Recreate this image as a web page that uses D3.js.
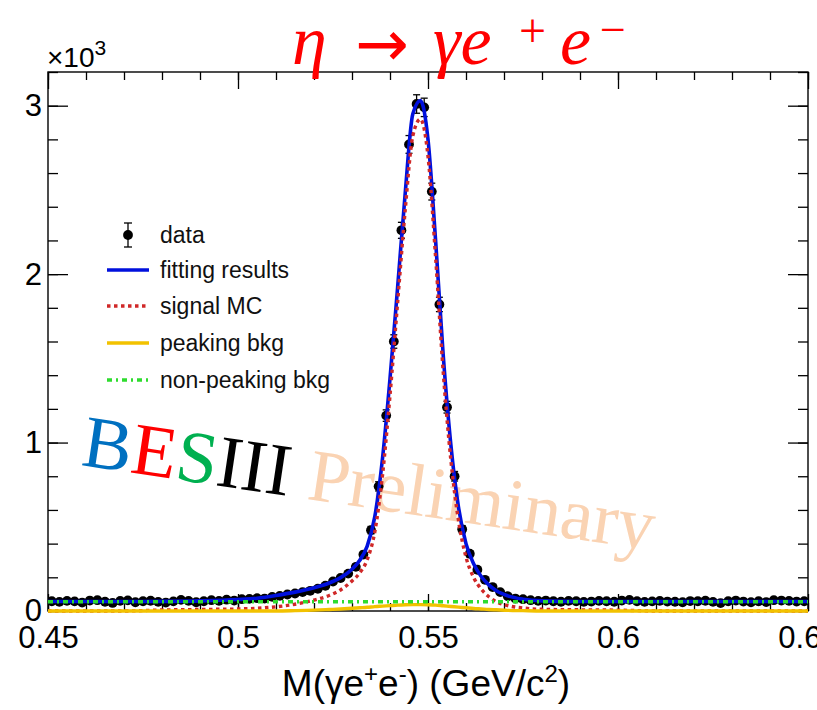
<!DOCTYPE html>
<html>
<head>
<meta charset="utf-8">
<script src="https://cdn.jsdelivr.net/npm/d3@7/dist/d3.min.js"></script>
<style>
  html, body { margin: 0; padding: 0; background: #fff; }
  svg { display: block; }
  .axis text { font-family: "Liberation Sans", Arial, Helvetica, sans-serif; fill: #000; }
  .axis path { display: none; }
  .axis line { stroke: #000; stroke-width: 1.3; }
</style>
</head>
<body>
<svg id="chart" width="817" height="710"></svg>
<script>
// ---- histogram: eta -> gamma e+ e- candidates, 2 MeV bins from 0.45 to 0.65 GeV/c^2
const binLow = 0.45;
const binWidth = 0.002;
const dataCounts = [
  58, 54, 60, 57, 50, 62, 64, 55, 48, 60,
  63, 52, 58, 61, 54, 50, 57, 66, 60, 52,
  58, 64, 60, 67, 62, 70, 72, 76, 74, 84,
  90, 98, 104, 112, 120, 132, 150, 175, 196, 222,
  262, 335, 480, 740, 1160, 1600, 2260, 2770, 3010, 2990,
  2490, 1820, 1210, 800, 485, 340, 245, 185, 142, 112,
  88, 74, 70, 64, 60, 62, 58, 55, 60, 58,
  54, 56, 60, 58, 55, 62, 66, 58, 54, 57,
  60, 56, 55, 52, 59, 58, 61, 54, 47, 58,
  62, 56, 52, 58, 53, 64, 62, 60, 56, 58
];

// ---- fit components, sampled on a common mass grid (GeV/c^2)
const curveMass = [
  0.450, 0.460, 0.470, 0.480, 0.490, 0.500, 0.505, 0.510, 0.515, 0.520,
  0.524, 0.527, 0.530, 0.532, 0.534, 0.536, 0.538, 0.540, 0.542, 0.544,
  0.546, 0.548, 0.550, 0.552, 0.554, 0.556, 0.558, 0.560, 0.562, 0.564,
  0.566, 0.568, 0.571, 0.575, 0.580, 0.590, 0.600, 0.610, 0.620, 0.630,
  0.640, 0.650
];
const fitValues = [
  56, 56, 56, 57, 60, 68, 76, 92, 112, 138,
  166, 198, 248, 300, 385, 560, 900, 1380, 1920, 2480,
  2950, 3030, 2800, 2200, 1520, 990, 620, 400, 280, 205,
  155, 120, 90, 70, 60, 56, 56, 56, 56, 56,
  56, 56
];
const signalValues = [
  0, 0, 0, 6, 9, 12, 16, 25, 40, 65,
  92, 125, 178, 225, 305, 470, 800, 1280, 1830, 2380,
  2820, 2920, 2700, 2100, 1420, 900, 540, 320, 200, 130,
  85, 55, 32, 18, 10, 7, 5, 0, 0, 0,
  0, 0
];
const peakingValues = [
  0, 0, 0, 0, 0, 0, 0, 0, 2, 5,
  9, 12, 16, 19, 22, 26, 29, 32, 35, 37,
  38, 38, 37, 35, 31, 27, 23, 19, 15, 12,
  9, 7, 4, 2, 0, 0, 0, 0, 0, 0,
  0, 0
];
const nonPeakingValues = [
  55, 55, 55, 55, 55, 55, 55, 55, 55, 55,
  55, 55, 55, 55, 55, 55, 55, 55, 55, 55,
  55, 55, 55, 55, 55, 55, 55, 55, 55, 55,
  55, 55, 55, 55, 55, 55, 55, 55, 55, 55,
  55, 55
];

// ---- axis ticks
const xMajorTicks = [0.45, 0.5, 0.55, 0.6, 0.65];
const xTickLabels = ["0.45", "0.5", "0.55", "0.6", "0.65"];
const yMajorTicks = [0, 1000, 2000, 3000];
const yTickLabels = ["0", "1", "2", "3"];

const legendItems = ["data", "fitting results", "signal MC", "peaking bkg", "non-peaking bkg"];

// ---- layout
const svg = d3.select("#chart");
const frame = { left: 48, right: 808, top: 72, bottom: 611 };
const x = d3.scaleLinear().domain([0.45, 0.65]).range([frame.left, frame.right]);
const y = d3.scaleLinear().domain([0, 3200]).range([frame.bottom, frame.top]);
const sans = '"Liberation Sans", Arial, Helvetica, sans-serif';
const serif = '"Liberation Serif", "Times New Roman", serif';

const colors = {
  fit: "#0010DD",
  signal: "#D02828",
  peaking: "#F2C200",
  nonPeaking: "#2EDC2E"
};

svg.append("defs").append("clipPath").attr("id", "plotClip")
  .append("rect")
  .attr("x", frame.left).attr("y", frame.top)
  .attr("width", frame.right - frame.left).attr("height", frame.bottom - frame.top + 3);

// ---- axes: major/minor ticks drawn inward on all four sides
const xMinor = d3.range(0.45, 0.6501, 0.01).map(v => +v.toFixed(3));
const yMinor = d3.range(0, 3201, 200);

function addAxis(axisFn, scale, values, size, transform, labels, fontSize, padding) {
  const ax = axisFn(scale).tickValues(values).tickSizeInner(-size).tickSizeOuter(0)
    .tickPadding(padding || 0)
    .tickFormat(labels ? (d, i) => labels[i] : () => "");
  const g = svg.append("g").attr("class", "axis").attr("transform", transform).call(ax);
  if (labels) g.selectAll("text").style("font-size", fontSize + "px");
  return g;
}
// bottom
addAxis(d3.axisBottom, x, xMinor, 8, `translate(0,${frame.bottom})`);
addAxis(d3.axisBottom, x, xMajorTicks, 17, `translate(0,${frame.bottom})`, xTickLabels, 31, 15);
// top
addAxis(d3.axisTop, x, xMinor, 8, `translate(0,${frame.top})`);
addAxis(d3.axisTop, x, xMajorTicks, 17, `translate(0,${frame.top})`);
// left
addAxis(d3.axisLeft, y, yMinor, 10, `translate(${frame.left},0)`);
addAxis(d3.axisLeft, y, yMajorTicks, 20, `translate(${frame.left},0)`, yTickLabels, 31, 6);
// right
addAxis(d3.axisRight, y, yMinor, 10, `translate(${frame.right},0)`);
addAxis(d3.axisRight, y, yMajorTicks, 20, `translate(${frame.right},0)`);

// frame
svg.append("rect")
  .attr("x", frame.left).attr("y", frame.top)
  .attr("width", frame.right - frame.left).attr("height", frame.bottom - frame.top)
  .attr("fill", "none").attr("stroke", "#000").attr("stroke-width", 1.4);

// ---- watermark
const mark = svg.append("text")
  .attr("transform", "translate(80,465) rotate(8.5)")
  .style("font-family", serif).style("font-size", "74px");
mark.append("tspan").attr("fill", "#0070C0").text("B");
mark.append("tspan").attr("fill", "#FF0000").text("E");
mark.append("tspan").attr("fill", "#00B050").text("S");
mark.append("tspan").attr("fill", "#000000").text("III");
mark.append("tspan").attr("fill", "#FAD3B3").text(" Preliminary");

// ---- data points with error bars
const bins = dataCounts.map((c, i) => ({ m: binLow + binWidth * (i + 0.5), c: c, e: Math.sqrt(c) }));
const plot = svg.append("g").attr("clip-path", "url(#plotClip)");
const pts = plot.append("g");
pts.selectAll("line.err").data(bins).join("line")
  .attr("x1", d => x(d.m)).attr("x2", d => x(d.m))
  .attr("y1", d => y(d.c - d.e)).attr("y2", d => y(d.c + d.e))
  .attr("stroke", "#000").attr("stroke-width", 1.3);
pts.selectAll("line.capT").data(bins).join("line")
  .attr("x1", d => x(d.m) - 3.5).attr("x2", d => x(d.m) + 3.5)
  .attr("y1", d => y(d.c + d.e)).attr("y2", d => y(d.c + d.e))
  .attr("stroke", "#000").attr("stroke-width", 1.3);
pts.selectAll("line.capB").data(bins).join("line")
  .attr("x1", d => x(d.m) - 3.5).attr("x2", d => x(d.m) + 3.5)
  .attr("y1", d => y(d.c - d.e)).attr("y2", d => y(d.c - d.e))
  .attr("stroke", "#000").attr("stroke-width", 1.3);
pts.selectAll("circle").data(bins).join("circle")
  .attr("cx", d => x(d.m)).attr("cy", d => y(d.c)).attr("r", 4.9)
  .attr("fill", "#000");

// ---- fit curves
function drawCurve(values, color, width, dash) {
  const line = d3.line().x((d, i) => x(curveMass[i])).y(d => y(d)).curve(d3.curveMonotoneX);
  plot.append("path").datum(values)
    .attr("d", line)
    .attr("fill", "none").attr("stroke", color).attr("stroke-width", width)
    .attr("stroke-dasharray", dash || null);
}
drawCurve(fitValues, colors.fit, 3.6);
drawCurve(signalValues, colors.signal, 3.4, "3.5,3.5");
drawCurve(peakingValues, colors.peaking, 3.4);
drawCurve(nonPeakingValues, colors.nonPeaking, 3.4, "5,4,2,4");

// ---- legend
const legend = svg.append("g");
const rowY = [235, 270, 306, 343, 380];
legendItems.forEach((label, i) => {
  const yy = rowY[i];
  if (i === 0) {
    legend.append("line").attr("x1", 128).attr("x2", 128).attr("y1", yy - 12).attr("y2", yy + 12)
      .attr("stroke", "#000").attr("stroke-width", 1.3);
    legend.append("line").attr("x1", 124).attr("x2", 132).attr("y1", yy - 12).attr("y2", yy - 12)
      .attr("stroke", "#000").attr("stroke-width", 1.3);
    legend.append("line").attr("x1", 124).attr("x2", 132).attr("y1", yy + 12).attr("y2", yy + 12)
      .attr("stroke", "#000").attr("stroke-width", 1.3);
    legend.append("circle").attr("cx", 128).attr("cy", yy).attr("r", 4.9).attr("fill", "#000");
  } else {
    const styles = [null,
      [colors.fit, 3.6, null],
      [colors.signal, 3.4, "3.5,3.5"],
      [colors.peaking, 3.4, null],
      [colors.nonPeaking, 3.4, "5,4,2,4"]][i];
    legend.append("line").attr("x1", 107).attr("x2", 149).attr("y1", yy).attr("y2", yy)
      .attr("stroke", styles[0]).attr("stroke-width", styles[1])
      .attr("stroke-dasharray", styles[2]);
  }
  legend.append("text").attr("x", 160).attr("y", yy).attr("dy", "0.35em")
    .style("font-family", sans).style("font-size", "23px").attr("fill", "#111")
    .text(label);
});

// ---- axis multiplier
const mult = svg.append("text").attr("x", 47).attr("y", 67)
  .style("font-family", sans).style("font-size", "28px").attr("fill", "#000");
mult.append("tspan").text("\u00D710");
mult.append("tspan").attr("dy", -12).style("font-size", "21px").text("3");

// ---- x-axis title
const xt = svg.append("text").attr("x", 426).attr("y", 696).attr("text-anchor", "middle")
  .style("font-family", sans).style("font-size", "37px").attr("fill", "#000");
xt.append("tspan").text("M(\u03B3e");
xt.append("tspan").attr("dy", -14).style("font-size", "24px").text("+");
xt.append("tspan").attr("dy", 14).text("e");
xt.append("tspan").attr("dy", -14).style("font-size", "24px").text("-");
xt.append("tspan").attr("dy", 14).text(") (GeV/c");
xt.append("tspan").attr("dy", -14).style("font-size", "24px").text("2");
xt.append("tspan").attr("dy", 14).text(")");

// ---- title
const title = svg.append("g").style("font-family", serif).attr("fill", "#FF0000");
title.append("text").attr("x", 292).attr("y", 64).style("font-size", "70px").style("font-style", "italic").text("\u03B7");
title.append("text").attr("x", 355).attr("y", 66).style("font-size", "64px")
  .style("font-family", '"DejaVu Sans", sans-serif').text("\u2192");
title.append("text").attr("x", 433).attr("y", 64).style("font-size", "70px").style("font-style", "italic").text("\u03B3e");
title.append("text").attr("x", 519).attr("y", 47).style("font-size", "48px").text("+");
title.append("text").attr("x", 560).attr("y", 64).style("font-size", "70px").style("font-style", "italic").text("e");
title.append("text").attr("x", 600).attr("y", 45).style("font-size", "46px").text("\u2212");
</script>
</body>
</html>
